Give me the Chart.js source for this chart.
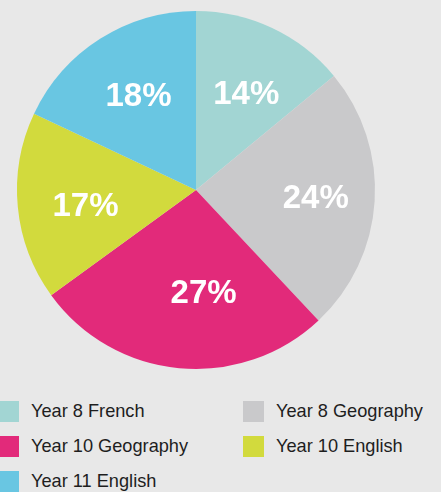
<!DOCTYPE html>
<html>
<head>
<meta charset="utf-8">
<script src="https://cdn.jsdelivr.net/npm/chart.js@4"></script>
<style>
  html, body { margin: 0; padding: 0; background: #e8e8e8; }
  body { width: 441px; height: 492px; position: relative; overflow: hidden; font-family: "Liberation Sans", Arial, sans-serif; }
  #wrap { position: absolute; left: 0; top: 0; width: 441px; height: 380px; }
  #legend { position: absolute; left: -2px; top: 401px; width: 443px; }
  .item { position: absolute; height: 21px; display: flex; align-items: center; font-size: 18.2px; color: #1e1e1e; white-space: nowrap; }
  .box { width: 21px; height: 21px; margin-right: 12px; flex: none; }
</style>
</head>
<body>
<div id="wrap"><canvas id="pie" width="441" height="380"></canvas></div>
<div id="legend"></div>
<script>
const labels = ['Year 8 French', 'Year 8 Geography', 'Year 10 Geography', 'Year 10 English', 'Year 11 English'];
const shares = [14, 24, 27, 17, 18];
const colours = ['#a2d5d3', '#c9c9cb', '#e22a7a', '#d2da3d', '#69c6e2'];

// small hand nudges so the % labels sit where the original put them
const labelNudge = [[3, 4], [9, 0], [18, -8], [0, 5], [2, -1]];

// percentage labels inside the slices
const sliceLabels = {
  id: 'sliceLabels',
  afterDatasetsDraw(chart) {
    const ctx = chart.ctx;
    const meta = chart.getDatasetMeta(0);
    ctx.save();
    ctx.fillStyle = '#ffffff';
    ctx.font = 'bold 33px "Liberation Sans", Arial, sans-serif';
    ctx.textAlign = 'center';
    ctx.textBaseline = 'middle';
    meta.data.forEach((arc, i) => {
      const mid = (arc.startAngle + arc.endAngle) / 2;
      const r = arc.outerRadius * 0.62;
      const x = arc.x + Math.cos(mid) * r + labelNudge[i][0];
      const y = arc.y + Math.sin(mid) * r + labelNudge[i][1] + 1.5;
      ctx.fillText(shares[i] + '%', x, y);
    });
    ctx.restore();
  }
};

new Chart(document.getElementById('pie'), {
  type: 'pie',
  data: {
    labels: labels,
    datasets: [{
      data: shares,
      backgroundColor: colours,
      borderWidth: 0
    }]
  },
  options: {
    responsive: false,
    animation: false,
    layout: { padding: { left: 17, right: 66, top: 11, bottom: 11 } },
    plugins: {
      legend: { display: false },
      tooltip: { enabled: false }
    }
  },
  plugins: [sliceLabels]
});

// two-column legend under the pie
const legend = document.getElementById('legend');
labels.forEach((name, i) => {
  const el = document.createElement('div');
  el.className = 'item';
  el.style.left = (i % 2 ? 245 : 0) + 'px';
  el.style.top = Math.floor(i / 2) * 35 + 'px';
  el.innerHTML = '<span class="box" style="background:' + colours[i] + '"></span>' + name;
  legend.appendChild(el);
});
</script>
</body>
</html>
